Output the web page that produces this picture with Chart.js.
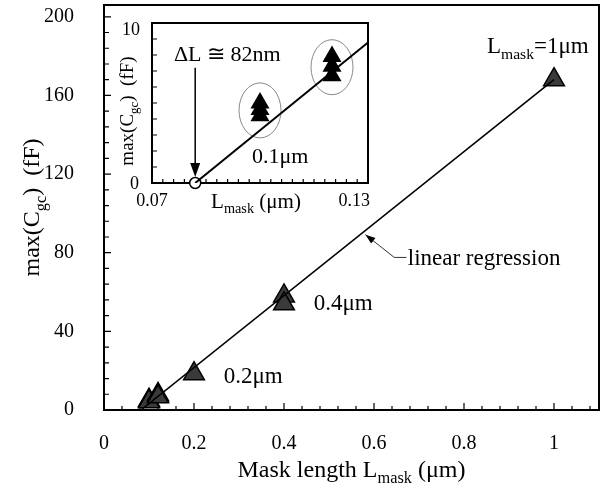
<!DOCTYPE html>
<html>
<head>
<meta charset="utf-8">
<script src="https://cdn.jsdelivr.net/npm/chart.js@4.4.0/dist/chart.umd.min.js"></script>
<style>
  body { margin: 0; background: #fff; }
  #wrap { position: relative; width: 613px; height: 496px; }
  #main { position: absolute; left: 0; top: 0; }
  #inset { position: absolute; left: 112px; top: 10px; }
</style>
</head>
<body>
<div id="wrap">
  <canvas id="main" width="613" height="496"></canvas>
  <canvas id="inset" width="270" height="210"></canvas>
</div>
<script>
// measured max gate capacitance vs mask length
var lmask  = [0.1, 0.1, 0.1, 0.12, 0.12, 0.12, 0.2, 0.4, 0.4, 1.0];
var cgcMax = [5.0, 4.6, 4.2, 7.9, 7.3, 6.7, 18.5, 58, 54, 168];

// linear regression, crosses zero at L = 82nm
var regLmask = [0.082, 1.0];
var regCgc   = [0, 168];

// tick labels
var xTicks = [0, 0.2, 0.4, 0.6, 0.8, 1];
var yTicks = [0, 40, 80, 120, 160, 200];
var insetXTicks = [0.07, 0.13];
var insetYTicks = [0, 10];

var FONT = '"Liberation Serif", "Times New Roman", serif';
Chart.defaults.font.family = FONT;
Chart.defaults.color = '#000';

function pts(xs, ys, maxX) {
    var out = [];
    for (var i = 0; i < xs.length; i++) {
        if (maxX === undefined || xs[i] <= maxX) out.push({x: xs[i], y: ys[i]});
    }
    return out;
}

function inList(v, list) {
    for (var i = 0; i < list.length; i++) {
        if (Math.abs(list[i] - v) < 1e-6) return true;
    }
    return false;
}

function setFont(ctx, size) {
    ctx.font = size + 'px ' + FONT;
}

// text with subscripts: parts = [[text, isSub], ...], y is baseline
function drawRich(ctx, parts, x, y, size, align) {
    var w = 0, i, s;
    for (i = 0; i < parts.length; i++) {
        setFont(ctx, parts[i][1] ? size * 0.68 : size);
        w += ctx.measureText(parts[i][0]).width;
    }
    var cx = align === 'center' ? x - w / 2 : (align === 'right' ? x - w : x);
    ctx.textAlign = 'left';
    ctx.textBaseline = 'alphabetic';
    ctx.fillStyle = '#000';
    for (i = 0; i < parts.length; i++) {
        s = parts[i][1] ? size * 0.68 : size;
        setFont(ctx, s);
        ctx.fillText(parts[i][0], cx, y + (parts[i][1] ? size * 0.26 : 0));
        cx += ctx.measureText(parts[i][0]).width;
    }
}

function drawRotated(ctx, parts, x, y, size) {
    ctx.save();
    ctx.translate(x, y);
    ctx.rotate(-Math.PI / 2);
    drawRich(ctx, parts, 0, size * 0.35, size, 'center');
    ctx.restore();
}

function arrowHead(ctx, x1, y1, x2, y2, len, wid) {
    var a = Math.atan2(y2 - y1, x2 - x1);
    ctx.beginPath();
    ctx.moveTo(x2, y2);
    ctx.lineTo(x2 - len * Math.cos(a) + wid / 2 * Math.sin(a), y2 - len * Math.sin(a) - wid / 2 * Math.cos(a));
    ctx.lineTo(x2 - len * Math.cos(a) - wid / 2 * Math.sin(a), y2 - len * Math.sin(a) + wid / 2 * Math.cos(a));
    ctx.closePath();
    ctx.fill();
}

var yLabel = [['max(C', false], ['gc', true], [')  (fF)', false]];

// ---------- main chart ----------
var mainFrame = {
    id: 'mainFrame',
    beforeDatasetsDraw: function(chart) {
        var ctx = chart.ctx, a = chart.chartArea;
        var xs = chart.scales.x, ys = chart.scales.y;
        ctx.save();
        ctx.strokeStyle = '#000';
        ctx.lineWidth = 1.2;
        ctx.beginPath();
        xs.ticks.forEach(function(t) {
            var px = xs.getPixelForValue(t.value);
            if (px < a.left + 2 || px > a.right - 2) return;
            var l = inList(t.value, xTicks) ? 7 : 4;
            ctx.moveTo(px, a.bottom); ctx.lineTo(px, a.bottom - l);
        });
        ys.ticks.forEach(function(t) {
            var py = ys.getPixelForValue(t.value);
            if (py < a.top + 2 || py > a.bottom - 2) return;
            var l = inList(t.value, yTicks) ? 7 : 5;
            ctx.moveTo(a.left, py); ctx.lineTo(a.left + l, py);
        });
        ctx.stroke();
        ctx.lineWidth = 2;
        ctx.strokeRect(a.left, a.top, a.right - a.left, a.bottom - a.top);
        ctx.restore();
    },
    afterDraw: function(chart) {
        var ctx = chart.ctx, a = chart.chartArea;
        var xs = chart.scales.x, ys = chart.scales.y;
        ctx.save();
        drawRich(ctx, [['Mask length L', false], ['mask', true], [' (μm)', false]],
                 (a.left + a.right) / 2, 477, 24, 'center');
        drawRotated(ctx, yLabel, 31, (a.top + a.bottom) / 2, 24);

        drawRich(ctx, [['0.2μm', false]], xs.getPixelForValue(0.266), ys.getPixelForValue(17.8) + 8, 23, 'left');
        drawRich(ctx, [['0.4μm', false]], xs.getPixelForValue(0.466), ys.getPixelForValue(54.9) + 8, 23, 'left');
        drawRich(ctx, [['L', false], ['mask', true], ['=1μm', false]],
                 xs.getPixelForValue(0.964), ys.getPixelForValue(181.6), 23, 'center');
        drawRich(ctx, [['linear regression', false]], xs.getPixelForValue(0.675), ys.getPixelForValue(77.8) + 8, 23, 'left');

        // leader for "linear regression"
        var ex = xs.getPixelForValue(0.672), ey = ys.getPixelForValue(77.6);
        var kx = xs.getPixelForValue(0.645);
        var tx = xs.getPixelForValue(0.581), ty = ys.getPixelForValue(89.2);
        ctx.strokeStyle = '#333';
        ctx.fillStyle = '#000';
        ctx.lineWidth = 1;
        ctx.beginPath();
        ctx.moveTo(ex, ey); ctx.lineTo(kx, ey); ctx.lineTo(tx, ty);
        ctx.stroke();
        arrowHead(ctx, kx, ey, tx, ty, 10, 7);
        ctx.restore();
    }
};

new Chart(document.getElementById('main'), {
    type: 'scatter',
    data: {
        datasets: [
            {
                label: 'linear regression',
                data: pts(regLmask, regCgc),
                showLine: true,
                borderColor: '#000',
                borderWidth: 1.6,
                pointRadius: 0
            },
            {
                label: 'max(Cgc)',
                data: pts(lmask, cgcMax),
                pointStyle: 'triangle',
                pointRadius: 12,
                pointHoverRadius: 12,
                backgroundColor: '#3a3a3a',
                borderColor: '#000',
                borderWidth: 1.5,
                clip: false
            }
        ]
    },
    options: {
        responsive: false,
        animation: false,
        devicePixelRatio: 1,
        layout: { autoPadding: false, padding: { top: 5, right: 14, left: 0, bottom: 0 } },
        plugins: { legend: { display: false }, tooltip: { enabled: false } },
        scales: {
            x: {
                type: 'linear', min: 0, max: 1.1,
                grid: { display: false }, border: { display: false },
                ticks: {
                    stepSize: 0.04, maxTicksLimit: 100, includeBounds: false,
                    autoSkip: false, maxRotation: 0, padding: 14,
                    font: { size: 20 },
                    callback: function(v) { return inList(v, xTicks) ? String(Math.round(v * 10) / 10) : ''; }
                },
                afterFit: function(s) { s.height = 86; s.paddingLeft = 0; s.paddingRight = 0; }
            },
            y: {
                type: 'linear', min: 0, max: 206,
                grid: { display: false }, border: { display: false },
                ticks: {
                    stepSize: 8, maxTicksLimit: 100, includeBounds: false,
                    autoSkip: false, padding: 22,
                    font: { size: 20 },
                    callback: function(v) { return inList(v, yTicks) ? String(Math.round(v)) : ''; }
                },
                afterFit: function(s) { s.width = 104; s.paddingTop = 0; s.paddingBottom = 0; }
            }
        }
    },
    plugins: [mainFrame]
});

// ---------- inset (zoom on the short devices) ----------
function clusterCenter(x) {
    var sy = 0, n = 0;
    for (var i = 0; i < lmask.length; i++) {
        if (Math.abs(lmask[i] - x) < 1e-6) { sy += cgcMax[i]; n++; }
    }
    return sy / n;
}

var insetDeco = {
    id: 'insetDeco',
    beforeDatasetsDraw: function(chart) {
        var ctx = chart.ctx, a = chart.chartArea;
        var xs = chart.scales.x, ys = chart.scales.y;
        ctx.save();
        ctx.fillStyle = '#fff';
        ctx.fillRect(a.left, a.top, a.right - a.left, a.bottom - a.top);
        ctx.strokeStyle = '#000';
        ctx.lineWidth = 1.2;
        ctx.beginPath();
        for (var k = 1; k < 20; k++) {
            var px = xs.getPixelForValue(0.07 + 0.003 * k);
            ctx.moveTo(px, a.bottom); ctx.lineTo(px, a.bottom - 4);
        }
        for (var j = 1; j < 10; j++) {
            var py = ys.getPixelForValue(j);
            ctx.moveTo(a.left, py); ctx.lineTo(a.left + 5, py);
        }
        ctx.stroke();
        ctx.lineWidth = 2;
        ctx.strokeRect(a.left, a.top, a.right - a.left, a.bottom - a.top);

        // ellipses round the two short-channel clusters
        ctx.strokeStyle = '#8a8a8a';
        ctx.lineWidth = 1;
        [0.1, 0.12].forEach(function(cx) {
            ctx.beginPath();
            ctx.ellipse(xs.getPixelForValue(cx), ys.getPixelForValue(clusterCenter(cx)) + 1, 21, 27.5, 0, 0, Math.PI * 2);
            ctx.stroke();
        });
        ctx.restore();
    },
    afterDraw: function(chart) {
        var ctx = chart.ctx, a = chart.chartArea;
        var xs = chart.scales.x, ys = chart.scales.y;
        ctx.save();
        // tick labels
        drawRich(ctx, [[String(insetYTicks[1]), false]], a.left - 12, ys.getPixelForValue(insetYTicks[1]) + 12, 18, 'right');
        drawRich(ctx, [[String(insetYTicks[0]), false]], a.left - 13, ys.getPixelForValue(insetYTicks[0]) + 6, 18, 'right');
        drawRich(ctx, [[insetXTicks[0].toFixed(2), false]], xs.getPixelForValue(insetXTicks[0]), a.bottom + 23, 18, 'center');
        drawRich(ctx, [[insetXTicks[1].toFixed(2), false]], xs.getPixelForValue(insetXTicks[1]) + 2, a.bottom + 23, 18, 'right');
        // axis titles
        drawRich(ctx, [['L', false], ['mask', true], [' (μm)', false]], (a.left + a.right) / 2 - 4, a.bottom + 25, 21, 'center');
        drawRotated(ctx, yLabel, a.left - 26, (a.top + a.bottom) / 2 + 8, 19);
        // delta L annotation
        drawRich(ctx, [['ΔL ≅ 82nm', false]], xs.getPixelForValue(0.0909), ys.getPixelForValue(8.08) + 7, 22, 'center');
        drawRich(ctx, [['0.1μm', false]], xs.getPixelForValue(0.0978), ys.getPixelForValue(1.71) + 7, 22, 'left');
        var ax = xs.getPixelForValue(regLmask[0]);
        var y1 = ys.getPixelForValue(7.2), y2 = ys.getPixelForValue(0) - 6;
        ctx.strokeStyle = '#000';
        ctx.fillStyle = '#000';
        ctx.lineWidth = 1.5;
        ctx.beginPath();
        ctx.moveTo(ax, y1); ctx.lineTo(ax, y2 - 10);
        ctx.stroke();
        arrowHead(ctx, ax, y1, ax, y2, 14, 10);
        ctx.restore();
    }
};

new Chart(document.getElementById('inset'), {
    type: 'scatter',
    data: {
        datasets: [
            {
                label: 'linear regression',
                data: pts(regLmask, regCgc),
                showLine: true,
                borderColor: '#000',
                borderWidth: 2,
                pointRadius: 0
            },
            {
                label: 'max(Cgc)',
                data: pts(lmask, cgcMax, 0.13),
                pointStyle: 'triangle',
                pointRadius: 11,
                backgroundColor: '#000',
                borderColor: '#000',
                borderWidth: 0
            },
            {
                label: 'delta L',
                data: [{x: regLmask[0], y: regCgc[0]}],
                pointStyle: 'circle',
                pointRadius: 5.5,
                backgroundColor: '#fff',
                borderColor: '#000',
                borderWidth: 1.5,
                clip: false
            }
        ]
    },
    options: {
        responsive: false,
        animation: false,
        devicePixelRatio: 1,
        layout: { autoPadding: false, padding: { top: 13, right: 14, left: 40, bottom: 37 } },
        plugins: { legend: { display: false }, tooltip: { enabled: false } },
        scales: {
            x: { type: 'linear', min: 0.07, max: 0.13, display: false },
            y: { type: 'linear', min: 0, max: 10, display: false }
        }
    },
    plugins: [insetDeco]
});
</script>
</body>
</html>
